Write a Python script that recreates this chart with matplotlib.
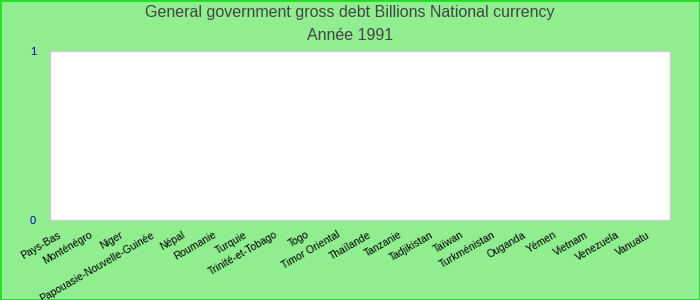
import matplotlib.pyplot as plt
import numpy as np

plt.rcParams['font.family'] = ['Liberation Sans', 'DejaVu Sans']

# Countries on the x axis (no values for 1991)
countries = ['Pays-Bas', 'Monténégro', 'Niger', 'Papouasie-Nouvelle-Guinée', 'Népal',
             'Roumanie', 'Turquie', 'Trinité-et-Tobago', 'Togo', 'Timor Oriental',
             'Thaïlande', 'Tanzanie', 'Tadjikistan', 'Taïwan', 'Turkménistan',
             'Ouganda', 'Yémen', 'Vietnam', 'Venezuela', 'Vanuatu']
debt = [np.nan, np.nan, np.nan, np.nan, np.nan, np.nan, np.nan, np.nan, np.nan, np.nan,
        np.nan, np.nan, np.nan, np.nan, np.nan, np.nan, np.nan, np.nan, np.nan, np.nan]
y_ticks = [0, 1]

fig = plt.figure(figsize=(7, 3), dpi=100, facecolor='#90ee90',
                 edgecolor='#22e022', linewidth=2)
ax = fig.add_axes([50 / 700, 1 - 220 / 300, 620 / 700, 169 / 300])
ax.set_facecolor('white')

index = np.arange(len(countries))
ax.bar(index, debt, 0.6, color='#4572a7')

ax.set_xlim(-0.5, len(countries) - 0.5)
ax.set_ylim(0, 1)
ax.set_yticks(y_ticks)
ax.set_yticklabels([str(v) for v in y_ticks], color='#0000cc', fontsize=8)
ax.tick_params(axis='y', length=0, pad=10)
ax.tick_params(axis='x', length=0, pad=7)
ax.set_xticks(index - 0.25)
ax.set_xticklabels(countries, rotation=30, ha='right', rotation_mode='anchor',
                   fontsize=7.5, color='black')

for s in ax.spines.values():
    s.set_color('#cccccc')
    s.set_linewidth(1)

fig.text(0.5, 1 - 13 / 300, 'General government gross debt Billions National currency',
         ha='center', va='center', fontsize=11.5, color='#444444')
fig.text(0.5, 1 - 35 / 300, 'Année 1991', ha='center', va='center',
         fontsize=11.5, color='#444444')

fig.savefig('out.png', dpi=100, facecolor=fig.get_facecolor(),
            edgecolor=fig.get_edgecolor())
